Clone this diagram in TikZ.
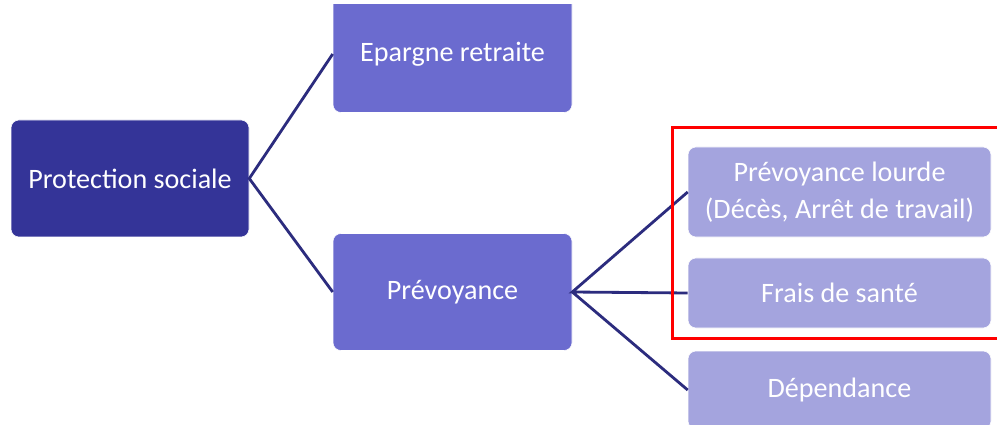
\documentclass[tikz,border=0pt]{standalone}
\usepackage{fontspec}
\setmainfont{Carlito}
\definecolor{dark}{RGB}{52,52,152}
\definecolor{mid}{RGB}{107,107,207}
\definecolor{light}{RGB}{164,164,222}
\definecolor{link}{RGB}{44,44,126}
\begin{document}
\begin{tikzpicture}[
  box/.style={rectangle, rounded corners=0.2cm, draw=white, line width=0.4pt,
    text=white, align=center, font=\fontsize{20}{26}\selectfont, inner sep=0pt},
  level1/.style={box, fill=dark, minimum width=5.95cm, minimum height=2.925cm},
  level2/.style={box, fill=mid, minimum width=5.975cm, minimum height=2.925cm},
  level3/.style={box, fill=light, minimum width=7.575cm},
  link/.style={draw=link, line width=2pt}]
  \fill[white] (0,0) rectangle (24.925,-10.625);
  \useasboundingbox (0,0) rectangle (24.925,-10.625);
  \clip (0,-0.125) rectangle (24.925,-10.625);
  \node[level1] (ps) at (3.25,-4.4625) {Protection sociale};
  \node[level2] (er) at (11.3125,-1.35) {Epargne retraite};
  \node[level2] (pv) at (11.3125,-7.3) {Prévoyance};
  \node[level3, minimum height=2.25cm] (pl) at (20.9875,-4.8)
    {Prévoyance lourde\\(Décès, Arrêt de travail)};
  \node[level3, minimum height=1.75cm] (fs) at (20.9875,-7.325) {Frais de santé};
  \node[level3, minimum height=1.95cm] (dp) at (20.9875,-9.75) {Dépendance};
  \draw[link] (er.west) -- (ps.east) -- (pv.west);
  \draw[link] (pl.west) -- (pv.east) -- (fs.west)
    (pv.east) -- (dp.west);
  \draw[red, line width=2.1pt] (16.81,-3.19) rectangle (25.5,-8.46);
\end{tikzpicture}
\end{document}
